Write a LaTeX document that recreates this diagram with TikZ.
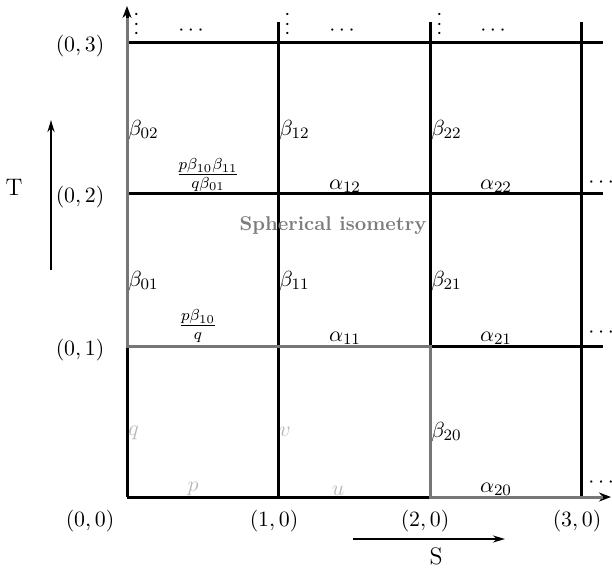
\documentclass[tikz,border=0pt]{standalone}
\usetikzlibrary{arrows.meta}
\definecolor{gline}{RGB}{118,118,118}
\definecolor{ltext}{RGB}{185,185,185}
\definecolor{gtext}{RGB}{125,125,125}
\begin{document}
\begin{tikzpicture}[x=0.5bp,y=-0.5bp,
  gridline/.style={line width=1.5bp, black},
  grayline/.style={line width=1.5bp, gline},
  axisline/.style={line width=1.5bp, black, -{Stealth[length=6bp,width=4.5bp]}},
  dirarrow/.style={line width=1bp, black, -{Stealth[length=6bp,width=3.5bp]}},
  lbl/.style={inner sep=0.5bp, font=\fontsize{11}{13}\selectfont},
  faint/.style={inner sep=0.5bp, text=ltext, font=\fontsize{11}{13}\selectfont},
  coordlbl/.style={inner sep=0pt, font=\fontsize{10.5}{12}\selectfont},
  vdotsnode/.style={inner sep=0pt, font=\fontsize{11}{13}\selectfont},
  cdotsnode/.style={inner sep=0pt, font=\fontsize{10.5}{12}\selectfont}]
\useasboundingbox (0,0) rectangle (612,570);

% grid coordinates
\coordinate (O) at (127,497);
\coordinate (xend) at (611,497);
\coordinate (yend) at (127,6);
\coordinate (b1) at (278,497); \coordinate (t1) at (278,22);
\coordinate (b2) at (430,497); \coordinate (t2) at (430,22);
\coordinate (b3) at (581,497); \coordinate (t3) at (581,22);
\coordinate (l1) at (127,346); \coordinate (r1) at (603,346);
\coordinate (l2) at (127,194); \coordinate (r2) at (603,194);
\coordinate (l3) at (127,43);  \coordinate (r3) at (603,43);
\coordinate (gtop) at (127,18);
\coordinate (g21) at (430,346);
\coordinate (gend) at (603,497);

% black grid
\draw[axisline] (O) -- (xend);
\draw[axisline] (O) -- (yend);
\draw[gridline] (b1) -- (t1);
\draw[gridline] (b2) -- (t2);
\draw[gridline] (b3) -- (t3);
\draw[gridline] (l1) -- (r1);
\draw[gridline] (l2) -- (r2);
\draw[gridline] (l3) -- (r3);

% gray staircase
\draw[grayline] (gtop) -- (l1) -- (g21) -- (b2) -- (gend);

% dots
\node[vdotsnode] (vd0) at (137,24) {\rotatebox{90}{$\cdots$}};
\node[vdotsnode] (vd1) at (288,24) {\rotatebox{90}{$\cdots$}};
\node[vdotsnode] (vd2) at (440,24) {\rotatebox{90}{$\cdots$}};
\node[cdotsnode] (hd0) at (191,31) {$\cdots$};
\node[cdotsnode] (hd1) at (342,31) {$\cdots$};
\node[cdotsnode] (hd2) at (493,31) {$\cdots$};
\node[cdotsnode,anchor=west] (rd2) at (588,183) {$\cdots$};
\node[cdotsnode,anchor=west] (rd1) at (588,333) {$\cdots$};
\node[cdotsnode,anchor=west] (rd0) at (588,483) {$\cdots$};

% beta labels
\node[lbl,anchor=west] (b02) at (127,130) {$\beta_{02}$};
\node[lbl,anchor=west] (b12) at (278,130) {$\beta_{12}$};
\node[lbl,anchor=west] (b22) at (430,130) {$\beta_{22}$};
\node[lbl,anchor=west] (b01) at (127,281) {$\beta_{01}$};
\node[lbl,anchor=west] (b11) at (278,281) {$\beta_{11}$};
\node[lbl,anchor=west] (b21) at (430,281) {$\beta_{21}$};
\node[lbl,anchor=west] (b20) at (430,432) {$\beta_{20}$};

% alpha labels
\node[lbl,anchor=south] (a12) at (345,194) {$\alpha_{12}$};
\node[lbl,anchor=south] (a22) at (496,194) {$\alpha_{22}$};
\node[lbl,anchor=south] (a11) at (345,346) {$\alpha_{11}$};
\node[lbl,anchor=south] (a21) at (496,346) {$\alpha_{21}$};
\node[lbl,anchor=south] (a20) at (496,497) {$\alpha_{20}$};

% fractions
\node[lbl,anchor=south,font=\large] (f2) at (208,193) {$\frac{p\beta_{10}\beta_{11}}{q\beta_{01}}$};
\node[lbl,anchor=south,font=\large] (f1) at (198,344) {$\frac{p\beta_{10}}{q}$};

% faint labels
\node[faint,anchor=south] (pl) at (193,497) {$p$};
\node[faint,anchor=south] (ul) at (338,497) {$u$};
\node[faint,anchor=west] (ql) at (127,433) {$q$};
\node[faint,anchor=west] (vl) at (278,432) {$v$};

% central text
\node[inner sep=0pt,text=gtext,font=\bfseries] (sph) at (333,226) {Spherical isometry};

% coordinate labels
\node[coordlbl] (c03) at (80,46) {$(0,3)$};
\node[coordlbl] (c02) at (80,197) {$(0,2)$};
\node[coordlbl] (c01) at (80,350) {$(0,1)$};
\node[coordlbl] (c00) at (90,521) {$(0,0)$};
\node[coordlbl] (c10) at (274,521) {$(1,0)$};
\node[coordlbl] (c20) at (425,521) {$(2,0)$};
\node[coordlbl] (c30) at (577,521) {$(3,0)$};

% direction arrows
\coordinate (tA) at (51,270); \coordinate (tB) at (51,120);
\draw[dirarrow] (tA) -- (tB);
\node[inner sep=0pt,font=\large] (T) at (14,187) {T};
\coordinate (sA) at (353,539); \coordinate (sB) at (505,539);
\draw[dirarrow] (sA) -- (sB);
\node[inner sep=0pt,font=\large] (S) at (436,556) {S};
\end{tikzpicture}
\end{document}
